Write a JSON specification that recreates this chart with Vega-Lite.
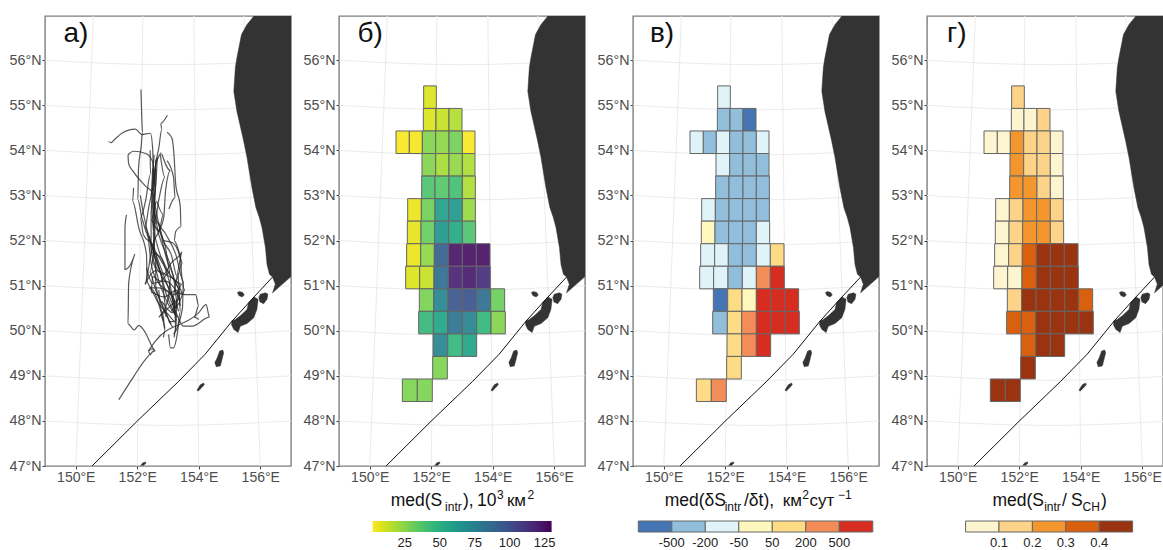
{
"$schema":"https://vega.github.io/schema/vega-lite/v6.json",
"padding":{"left":8,"top":15,"right":0,"bottom":0},
"background":"white",
"spacing":48,
"bounds":"flush",
"config":{"font":"Liberation Sans","view":{"stroke":"#7f7f7f","strokeWidth":1.4},"axis":{"grid":false,"domain":false,"tickColor":"#444444","tickSize":3,"labelColor":"#4d4d4d","labelPadding":1,"title":null}},
"datasets":{
"cells":[
{"lon0":151.753,"lon1":152.165,"lat0":54.93,"lat1":55.43,"s":9,"dsBin":3,"ratio":0.15},
{"lon0":151.743,"lon1":152.154,"lat0":54.43,"lat1":54.93,"s":9,"dsBin":2,"ratio":0.05},
{"lon0":152.154,"lon1":152.577,"lat0":54.43,"lat1":54.93,"s":13,"dsBin":2,"ratio":0.05},
{"lon0":152.577,"lon1":153.0,"lat0":54.43,"lat1":54.93,"s":17,"dsBin":1,"ratio":0.15},
{"lon0":150.854,"lon1":151.287,"lat0":53.93,"lat1":54.43,"s":3,"dsBin":3,"ratio":0.05},
{"lon0":151.287,"lon1":151.71,"lat0":53.93,"lat1":54.43,"s":4,"dsBin":2,"ratio":0.05},
{"lon0":151.71,"lon1":152.144,"lat0":53.93,"lat1":54.43,"s":26,"dsBin":3,"ratio":0.25},
{"lon0":152.144,"lon1":152.577,"lat0":53.93,"lat1":54.43,"s":24,"dsBin":2,"ratio":0.15},
{"lon0":152.577,"lon1":153.011,"lat0":53.93,"lat1":54.43,"s":29,"dsBin":2,"ratio":0.15},
{"lon0":153.011,"lon1":153.423,"lat0":53.93,"lat1":54.43,"s":3,"dsBin":3,"ratio":0.05},
{"lon0":151.699,"lon1":152.144,"lat0":53.43,"lat1":53.93,"s":26,"dsBin":3,"ratio":0.25},
{"lon0":152.144,"lon1":152.577,"lat0":53.43,"lat1":53.93,"s":19,"dsBin":2,"ratio":0.15},
{"lon0":152.577,"lon1":153.011,"lat0":53.43,"lat1":53.93,"s":23,"dsBin":2,"ratio":0.15},
{"lon0":153.011,"lon1":153.423,"lat0":53.43,"lat1":53.93,"s":18,"dsBin":2,"ratio":0.05},
{"lon0":151.688,"lon1":152.122,"lat0":52.93,"lat1":53.43,"s":38,"dsBin":2,"ratio":0.25},
{"lon0":152.122,"lon1":152.577,"lat0":52.93,"lat1":53.43,"s":36,"dsBin":2,"ratio":0.25},
{"lon0":152.577,"lon1":153.011,"lat0":52.93,"lat1":53.43,"s":41,"dsBin":2,"ratio":0.15},
{"lon0":153.011,"lon1":153.434,"lat0":52.93,"lat1":53.43,"s":18,"dsBin":2,"ratio":0.05},
{"lon0":151.233,"lon1":151.678,"lat0":52.43,"lat1":52.93,"s":6,"dsBin":3,"ratio":0.05},
{"lon0":151.678,"lon1":152.122,"lat0":52.43,"lat1":52.93,"s":30,"dsBin":2,"ratio":0.15},
{"lon0":152.122,"lon1":152.566,"lat0":52.43,"lat1":52.93,"s":58,"dsBin":2,"ratio":0.25},
{"lon0":152.566,"lon1":153.011,"lat0":52.43,"lat1":52.93,"s":62,"dsBin":2,"ratio":0.25},
{"lon0":153.011,"lon1":153.434,"lat0":52.43,"lat1":52.93,"s":22,"dsBin":2,"ratio":0.15},
{"lon0":151.222,"lon1":151.667,"lat0":51.93,"lat1":52.43,"s":7,"dsBin":4,"ratio":0.05},
{"lon0":151.667,"lon1":152.111,"lat0":51.93,"lat1":52.43,"s":32,"dsBin":2,"ratio":0.15},
{"lon0":152.111,"lon1":152.566,"lat0":51.93,"lat1":52.43,"s":63,"dsBin":2,"ratio":0.25},
{"lon0":152.566,"lon1":153.011,"lat0":51.93,"lat1":52.43,"s":53,"dsBin":2,"ratio":0.25},
{"lon0":153.011,"lon1":153.444,"lat0":51.93,"lat1":52.43,"s":38,"dsBin":3,"ratio":0.15},
{"lon0":151.2,"lon1":151.656,"lat0":51.43,"lat1":51.93,"s":6,"dsBin":3,"ratio":0.05},
{"lon0":151.656,"lon1":152.1,"lat0":51.43,"lat1":51.93,"s":24,"dsBin":3,"ratio":0.15},
{"lon0":152.1,"lon1":152.556,"lat0":51.43,"lat1":51.93,"s":92,"dsBin":2,"ratio":0.35},
{"lon0":152.556,"lon1":153.011,"lat0":51.43,"lat1":51.93,"s":123,"dsBin":2,"ratio":0.45},
{"lon0":153.011,"lon1":153.466,"lat0":51.43,"lat1":51.93,"s":125,"dsBin":3,"ratio":0.45},
{"lon0":153.466,"lon1":153.911,"lat0":51.43,"lat1":51.93,"s":125,"dsBin":5,"ratio":0.45},
{"lon0":151.168,"lon1":151.623,"lat0":50.93,"lat1":51.43,"s":9,"dsBin":3,"ratio":0.05},
{"lon0":151.623,"lon1":152.089,"lat0":50.93,"lat1":51.43,"s":13,"dsBin":3,"ratio":0.05},
{"lon0":152.089,"lon1":152.556,"lat0":50.93,"lat1":51.43,"s":84,"dsBin":2,"ratio":0.35},
{"lon0":152.556,"lon1":153.011,"lat0":50.93,"lat1":51.43,"s":118,"dsBin":3,"ratio":0.45},
{"lon0":153.011,"lon1":153.466,"lat0":50.93,"lat1":51.43,"s":122,"dsBin":6,"ratio":0.45},
{"lon0":153.466,"lon1":153.921,"lat0":50.93,"lat1":51.43,"s":114,"dsBin":7,"ratio":0.45},
{"lon0":151.612,"lon1":152.079,"lat0":50.43,"lat1":50.93,"s":28,"dsBin":1,"ratio":0.15},
{"lon0":152.079,"lon1":152.545,"lat0":50.43,"lat1":50.93,"s":72,"dsBin":5,"ratio":0.45},
{"lon0":152.545,"lon1":153.011,"lat0":50.43,"lat1":50.93,"s":96,"dsBin":4,"ratio":0.45},
{"lon0":153.011,"lon1":153.477,"lat0":50.43,"lat1":50.93,"s":98,"dsBin":7,"ratio":0.45},
{"lon0":153.477,"lon1":153.932,"lat0":50.43,"lat1":50.93,"s":84,"dsBin":7,"ratio":0.45},
{"lon0":153.932,"lon1":154.387,"lat0":50.43,"lat1":50.93,"s":31,"dsBin":7,"ratio":0.35},
{"lon0":151.591,"lon1":152.068,"lat0":49.93,"lat1":50.43,"s":45,"dsBin":2,"ratio":0.35},
{"lon0":152.068,"lon1":152.534,"lat0":49.93,"lat1":50.43,"s":55,"dsBin":5,"ratio":0.35},
{"lon0":152.534,"lon1":153.011,"lat0":49.93,"lat1":50.43,"s":82,"dsBin":6,"ratio":0.45},
{"lon0":153.011,"lon1":153.477,"lat0":49.93,"lat1":50.43,"s":74,"dsBin":7,"ratio":0.45},
{"lon0":153.477,"lon1":153.943,"lat0":49.93,"lat1":50.43,"s":46,"dsBin":7,"ratio":0.45},
{"lon0":153.943,"lon1":154.409,"lat0":49.93,"lat1":50.43,"s":26,"dsBin":7,"ratio":0.45},
{"lon0":152.057,"lon1":152.534,"lat0":49.43,"lat1":49.93,"s":72,"dsBin":5,"ratio":0.35},
{"lon0":152.534,"lon1":153.011,"lat0":49.43,"lat1":49.93,"s":46,"dsBin":6,"ratio":0.45},
{"lon0":153.011,"lon1":153.477,"lat0":49.43,"lat1":49.93,"s":56,"dsBin":7,"ratio":0.45},
{"lon0":152.046,"lon1":152.523,"lat0":48.93,"lat1":49.43,"s":27,"dsBin":5,"ratio":0.45},
{"lon0":151.06,"lon1":151.547,"lat0":48.43,"lat1":48.93,"s":27,"dsBin":5,"ratio":0.45},
{"lon0":151.547,"lon1":152.035,"lat0":48.43,"lat1":48.93,"s":27,"dsBin":6,"ratio":0.45}
],
"grid":[
{"g":"p48","i":0,"lon":149,"lat":48},{"g":"p48","i":1,"lon":151,"lat":47.93},{"g":"p48","i":2,"lon":153,"lat":47.9},{"g":"p48","i":3,"lon":155,"lat":47.93},{"g":"p48","i":4,"lon":157,"lat":48},
{"g":"p49","i":0,"lon":149,"lat":49},{"g":"p49","i":1,"lon":151,"lat":48.93},{"g":"p49","i":2,"lon":153,"lat":48.9},{"g":"p49","i":3,"lon":155,"lat":48.93},{"g":"p49","i":4,"lon":157,"lat":49},
{"g":"p50","i":0,"lon":149,"lat":50},{"g":"p50","i":1,"lon":151,"lat":49.93},{"g":"p50","i":2,"lon":153,"lat":49.9},{"g":"p50","i":3,"lon":155,"lat":49.93},{"g":"p50","i":4,"lon":157,"lat":50},
{"g":"p51","i":0,"lon":149,"lat":51},{"g":"p51","i":1,"lon":151,"lat":50.93},{"g":"p51","i":2,"lon":153,"lat":50.9},{"g":"p51","i":3,"lon":155,"lat":50.93},{"g":"p51","i":4,"lon":157,"lat":51},
{"g":"p52","i":0,"lon":149,"lat":52},{"g":"p52","i":1,"lon":151,"lat":51.93},{"g":"p52","i":2,"lon":153,"lat":51.9},{"g":"p52","i":3,"lon":155,"lat":51.93},{"g":"p52","i":4,"lon":157,"lat":52},
{"g":"p53","i":0,"lon":149,"lat":53},{"g":"p53","i":1,"lon":151,"lat":52.93},{"g":"p53","i":2,"lon":153,"lat":52.9},{"g":"p53","i":3,"lon":155,"lat":52.93},{"g":"p53","i":4,"lon":157,"lat":53},
{"g":"p54","i":0,"lon":149,"lat":54},{"g":"p54","i":1,"lon":151,"lat":53.93},{"g":"p54","i":2,"lon":153,"lat":53.9},{"g":"p54","i":3,"lon":155,"lat":53.93},{"g":"p54","i":4,"lon":157,"lat":54},
{"g":"p55","i":0,"lon":149,"lat":55},{"g":"p55","i":1,"lon":151,"lat":54.93},{"g":"p55","i":2,"lon":153,"lat":54.9},{"g":"p55","i":3,"lon":155,"lat":54.93},{"g":"p55","i":4,"lon":157,"lat":55},
{"g":"p56","i":0,"lon":149,"lat":56},{"g":"p56","i":1,"lon":151,"lat":55.93},{"g":"p56","i":2,"lon":153,"lat":55.9},{"g":"p56","i":3,"lon":155,"lat":55.93},{"g":"p56","i":4,"lon":157,"lat":56},
{"g":"m150","i":0,"lon":150,"lat":47},{"g":"m150","i":1,"lon":150.575,"lat":57},
{"g":"m152","i":0,"lon":152,"lat":47},{"g":"m152","i":1,"lon":152.184,"lat":57},
{"g":"m154","i":0,"lon":154,"lat":47},{"g":"m154","i":1,"lon":153.84,"lat":57},
{"g":"m156","i":0,"lon":156,"lat":47},{"g":"m156","i":1,"lon":155.47,"lat":57}
],
"land":[
{"id":"k","i":0,"lon":155.82,"lat":57},{"id":"k","i":1,"lon":155.57,"lat":56.79},{"id":"k","i":2,"lon":155.39,"lat":56.57},{"id":"k","i":3,"lon":155.24,"lat":56.05},{"id":"k","i":4,"lon":155.19,"lat":55.83},{"id":"k","i":5,"lon":155.14,"lat":55.31},{"id":"k","i":6,"lon":155.24,"lat":54.87},{"id":"k","i":7,"lon":155.46,"lat":54.21},{"id":"k","i":8,"lon":155.57,"lat":53.84},{"id":"k","i":9,"lon":155.73,"lat":53.17},{"id":"k","i":10,"lon":155.86,"lat":52.73},{"id":"k","i":11,"lon":155.97,"lat":52.51},{"id":"k","i":12,"lon":156.06,"lat":52.28},{"id":"k","i":13,"lon":156.17,"lat":51.84},{"id":"k","i":14,"lon":156.22,"lat":51.47},{"id":"k","i":15,"lon":156.3,"lat":51.25},{"id":"k","i":16,"lon":156.4,"lat":51.19},{"id":"k","i":17,"lon":156.49,"lat":51.03},{"id":"k","i":18,"lon":156.4,"lat":50.84},{"id":"k","i":19,"lon":156.65,"lat":50.99},{"id":"k","i":20,"lon":157.2,"lat":51.32},{"id":"k","i":21,"lon":157.2,"lat":57.2},{"id":"k","i":22,"lon":155.82,"lat":57.2},
{"id":"a","i":0,"lon":155.25,"lat":50.84},{"id":"a","i":1,"lon":155.32,"lat":50.87},{"id":"a","i":2,"lon":155.43,"lat":50.85},{"id":"a","i":3,"lon":155.48,"lat":50.79},{"id":"a","i":4,"lon":155.41,"lat":50.75},{"id":"a","i":5,"lon":155.3,"lat":50.78},
{"id":"b","i":0,"lon":155.95,"lat":50.73},{"id":"b","i":1,"lon":156.0,"lat":50.81},{"id":"b","i":2,"lon":156.17,"lat":50.84},{"id":"b","i":3,"lon":156.25,"lat":50.81},{"id":"b","i":4,"lon":156.22,"lat":50.7},{"id":"b","i":5,"lon":156.11,"lat":50.6},{"id":"b","i":6,"lon":155.98,"lat":50.64},
{"id":"c","i":0,"lon":155.06,"lat":50.21},{"id":"c","i":1,"lon":155.19,"lat":50.25},{"id":"c","i":2,"lon":155.35,"lat":50.33},{"id":"c","i":3,"lon":155.57,"lat":50.47},{"id":"c","i":4,"lon":155.62,"lat":50.62},{"id":"c","i":5,"lon":155.79,"lat":50.75},{"id":"c","i":6,"lon":155.93,"lat":50.7},{"id":"c","i":7,"lon":155.89,"lat":50.47},{"id":"c","i":8,"lon":155.79,"lat":50.29},{"id":"c","i":9,"lon":155.57,"lat":50.16},{"id":"c","i":10,"lon":155.35,"lat":50.1},{"id":"c","i":11,"lon":155.28,"lat":49.96},{"id":"c","i":12,"lon":155.14,"lat":50.03},{"id":"c","i":13,"lon":155.06,"lat":50.14},
{"id":"d","i":0,"lon":154.52,"lat":49.29},{"id":"d","i":1,"lon":154.6,"lat":49.4},{"id":"d","i":2,"lon":154.68,"lat":49.55},{"id":"d","i":3,"lon":154.78,"lat":49.57},{"id":"d","i":4,"lon":154.81,"lat":49.51},{"id":"d","i":5,"lon":154.73,"lat":49.29},{"id":"d","i":6,"lon":154.7,"lat":49.22},{"id":"d","i":7,"lon":154.56,"lat":49.2},
{"id":"e","i":0,"lon":153.94,"lat":48.68},{"id":"e","i":1,"lon":154.05,"lat":48.8},{"id":"e","i":2,"lon":154.16,"lat":48.84},{"id":"e","i":3,"lon":154.18,"lat":48.8},{"id":"e","i":4,"lon":154.07,"lat":48.72},{"id":"e","i":5,"lon":153.98,"lat":48.66},
{"id":"f","i":0,"lon":152.11,"lat":47.01},{"id":"f","i":1,"lon":152.18,"lat":47.07},{"id":"f","i":2,"lon":152.27,"lat":47.09},{"id":"f","i":3,"lon":152.28,"lat":47.06},{"id":"f","i":4,"lon":152.2,"lat":47.01}
],
"coast":[
{"i":0,"lon":150.53,"lat":47},{"i":1,"lon":151.99,"lat":47.99},{"i":2,"lon":153.35,"lat":48.88},{"i":3,"lon":154.21,"lat":49.48},{"i":4,"lon":155.08,"lat":50.21},{"i":5,"lon":155.73,"lat":50.7},{"i":6,"lon":156.4,"lat":51.19}
],
"text":[
{"p":"a","lon":149.6,"lat":56.4,"t":"a)","z":28},
{"p":"b","lon":149.6,"lat":56.4,"t":"б)","z":28},
{"p":"c","lon":149.55,"lat":56.4,"t":"в)","z":28},
{"p":"d","lon":149.65,"lat":56.4,"t":"г)","z":28},
{"p":"b","lon":150.68,"lat":46.11,"t":"med(S","z":17.5},
{"p":"b","lon":152.45,"lat":46.0,"t":"intr","z":12},
{"p":"b","lon":153.03,"lat":46.11,"t":"),","z":17.5},
{"p":"b","lon":153.49,"lat":46.11,"t":"10","z":17.5},
{"p":"b","lon":154.14,"lat":46.27,"t":"3","z":12},
{"p":"b","lon":154.46,"lat":46.11,"t":"км","z":17},
{"p":"b","lon":155.13,"lat":46.27,"t":"2","z":12},
{"p":"c","lon":150.03,"lat":46.11,"t":"med(δS","z":17.5},
{"p":"c","lon":151.98,"lat":46.0,"t":"intr","z":12},
{"p":"c","lon":152.61,"lat":46.11,"t":"/δt),","z":17.5},
{"p":"c","lon":153.87,"lat":46.11,"t":"км","z":17},
{"p":"c","lon":154.5,"lat":46.27,"t":"2","z":12},
{"p":"c","lon":154.74,"lat":46.11,"t":"сут","z":17},
{"p":"c","lon":155.67,"lat":46.27,"t":"−1","z":12},
{"p":"d","lon":151.13,"lat":46.11,"t":"med(S","z":17.5},
{"p":"d","lon":152.81,"lat":46.0,"t":"intr","z":12},
{"p":"d","lon":153.39,"lat":46.11,"t":"/","z":17.5},
{"p":"d","lon":153.68,"lat":46.11,"t":"S","z":17.5},
{"p":"d","lon":154.06,"lat":46.0,"t":"CH","z":12},
{"p":"d","lon":154.66,"lat":46.11,"t":")","z":17.5}
],
"tracks":[
{"t":1,"i":0,"lon":152.12,"lat":55.35},{"t":1,"i":1,"lon":152.14,"lat":54.9},{"t":1,"i":2,"lon":152.17,"lat":54.4},{"t":1,"i":3,"lon":152.13,"lat":54.1},{"t":1,"i":4,"lon":152.04,"lat":53.6},{"t":1,"i":5,"lon":152.02,"lat":52.9},{"t":1,"i":6,"lon":152.15,"lat":52.5},{"t":1,"i":7,"lon":152.6,"lat":51.7},{"t":1,"i":8,"lon":152.93,"lat":51.1},{"t":1,"i":9,"lon":153.25,"lat":50.5},
{"t":2,"i":0,"lon":151.07,"lat":54.2},{"t":2,"i":1,"lon":151.15,"lat":54.17},{"t":2,"i":2,"lon":151.23,"lat":54.22},{"t":2,"i":3,"lon":151.5,"lat":54.38},{"t":2,"i":4,"lon":151.94,"lat":54.47},{"t":2,"i":5,"lon":152.15,"lat":54.35},{"t":2,"i":6,"lon":152.43,"lat":54.38},{"t":2,"i":7,"lon":152.5,"lat":54.05},{"t":2,"i":8,"lon":152.53,"lat":53.47},{"t":2,"i":9,"lon":152.6,"lat":53.17},{"t":2,"i":10,"lon":152.5,"lat":52.72},{"t":2,"i":11,"lon":152.7,"lat":52.13},{"t":2,"i":12,"lon":153.03,"lat":51.55},{"t":2,"i":13,"lon":153.35,"lat":50.95},{"t":2,"i":14,"lon":153.25,"lat":50.2},
{"t":3,"i":0,"lon":152.98,"lat":54.78},{"t":3,"i":1,"lon":152.76,"lat":54.6},{"t":3,"i":2,"lon":152.8,"lat":54.47},{"t":3,"i":3,"lon":152.7,"lat":54.05},{"t":3,"i":4,"lon":152.6,"lat":53.7},{"t":3,"i":5,"lon":152.53,"lat":53.3},{"t":3,"i":6,"lon":152.37,"lat":52.72},{"t":3,"i":7,"lon":152.25,"lat":52.28},{"t":3,"i":8,"lon":152.55,"lat":51.7},{"t":3,"i":9,"lon":152.83,"lat":51.03},{"t":3,"i":10,"lon":152.93,"lat":50.45},{"t":3,"i":11,"lon":153.15,"lat":50.08},
{"t":4,"i":0,"lon":152.97,"lat":54.4},{"t":4,"i":1,"lon":153.13,"lat":54.27},{"t":4,"i":2,"lon":153.2,"lat":53.85},{"t":4,"i":3,"lon":153.25,"lat":53.25},{"t":4,"i":4,"lon":153.4,"lat":52.75},{"t":4,"i":5,"lon":153.42,"lat":52.3},{"t":4,"i":6,"lon":153.25,"lat":52.2},{"t":4,"i":7,"lon":153.2,"lat":52.0},{"t":4,"i":8,"lon":153.35,"lat":51.77},{"t":4,"i":9,"lon":153.47,"lat":51.5},{"t":4,"i":10,"lon":153.25,"lat":51.1},{"t":4,"i":11,"lon":153.47,"lat":50.8},
{"t":5,"i":0,"lon":151.7,"lat":53.9},{"t":5,"i":1,"lon":151.88,"lat":53.98},{"t":5,"i":2,"lon":152.28,"lat":53.93},{"t":5,"i":3,"lon":152.5,"lat":53.75},{"t":5,"i":4,"lon":152.55,"lat":53.5},{"t":5,"i":5,"lon":152.5,"lat":53.1},
{"t":6,"i":0,"lon":151.7,"lat":53.9},{"t":6,"i":1,"lon":151.72,"lat":53.7},{"t":6,"i":2,"lon":151.85,"lat":53.55},{"t":6,"i":3,"lon":152.25,"lat":53.22},{"t":6,"i":4,"lon":152.5,"lat":53.05},{"t":6,"i":5,"lon":152.6,"lat":52.7},{"t":6,"i":6,"lon":152.75,"lat":52.2},{"t":6,"i":7,"lon":152.95,"lat":51.6},{"t":6,"i":8,"lon":153.2,"lat":51.1},{"t":6,"i":9,"lon":153.3,"lat":50.5},
{"t":7,"i":0,"lon":151.65,"lat":52.57},{"t":7,"i":1,"lon":151.6,"lat":52.28},{"t":7,"i":2,"lon":151.6,"lat":51.36},{"t":7,"i":3,"lon":151.78,"lat":51.47},{"t":7,"i":4,"lon":151.92,"lat":51.7},{"t":7,"i":5,"lon":151.72,"lat":51.05},{"t":7,"i":6,"lon":151.7,"lat":50.15},{"t":7,"i":7,"lon":151.9,"lat":50.02},{"t":7,"i":8,"lon":152.05,"lat":50.12},{"t":7,"i":9,"lon":152.27,"lat":49.95},{"t":7,"i":10,"lon":152.48,"lat":49.65},{"t":7,"i":11,"lon":152.58,"lat":49.55},
{"t":8,"i":0,"lon":151.4,"lat":48.47},{"t":8,"i":1,"lon":151.9,"lat":49.0},{"t":8,"i":2,"lon":152.25,"lat":49.35},{"t":8,"i":3,"lon":152.58,"lat":49.55},{"t":8,"i":4,"lon":152.48,"lat":49.6},{"t":8,"i":5,"lon":152.36,"lat":49.55},{"t":8,"i":6,"lon":152.42,"lat":49.47},{"t":8,"i":7,"lon":152.5,"lat":49.55},
{"t":9,"i":0,"lon":152.36,"lat":49.55},{"t":9,"i":1,"lon":152.59,"lat":49.77},{"t":9,"i":2,"lon":154.0,"lat":50.4},{"t":9,"i":3,"lon":154.24,"lat":50.58},{"t":9,"i":4,"lon":154.32,"lat":50.36},{"t":9,"i":5,"lon":154.35,"lat":50.3},{"t":9,"i":6,"lon":153.78,"lat":50.1},{"t":9,"i":7,"lon":153.51,"lat":50.1},{"t":9,"i":8,"lon":153.24,"lat":50.44},{"t":9,"i":9,"lon":153.02,"lat":50.8},
{"t":10,"i":0,"lon":153.02,"lat":49.92},{"t":10,"i":1,"lon":153.08,"lat":49.62},{"t":10,"i":2,"lon":153.18,"lat":49.62},{"t":10,"i":3,"lon":153.3,"lat":49.92},{"t":10,"i":4,"lon":153.4,"lat":50.43},{"t":10,"i":5,"lon":153.35,"lat":50.9},{"t":10,"i":6,"lon":153.0,"lat":51.3},{"t":10,"i":7,"lon":152.6,"lat":51.75},
{"t":11,"i":0,"lon":153.3,"lat":50.85},{"t":11,"i":1,"lon":153.57,"lat":50.8},{"t":11,"i":2,"lon":153.9,"lat":50.8},{"t":11,"i":3,"lon":154.0,"lat":50.55},{"t":11,"i":4,"lon":153.85,"lat":50.3},{"t":11,"i":5,"lon":154.0,"lat":50.25},
{"t":12,"i":0,"lon":151.88,"lat":53.17},{"t":12,"i":1,"lon":151.85,"lat":52.87},{"t":12,"i":2,"lon":152.05,"lat":52.28},{"t":12,"i":3,"lon":152.3,"lat":51.7},{"t":12,"i":4,"lon":152.32,"lat":51.1},{"t":12,"i":5,"lon":152.6,"lat":50.8},{"t":12,"i":6,"lon":152.85,"lat":50.22},
{"t":13,"i":0,"lon":152.78,"lat":53.95},{"t":13,"i":1,"lon":152.58,"lat":53.62},{"t":13,"i":2,"lon":152.53,"lat":52.95},{"t":13,"i":3,"lon":152.6,"lat":52.5},{"t":13,"i":4,"lon":152.92,"lat":52.15},{"t":13,"i":5,"lon":153.25,"lat":51.7},{"t":13,"i":6,"lon":153.5,"lat":51.1},{"t":13,"i":7,"lon":153.47,"lat":50.5},{"t":13,"i":8,"lon":153.18,"lat":49.92},
{"t":14,"i":0,"lon":152.8,"lat":53.92},{"t":14,"i":1,"lon":153.08,"lat":53.55},{"t":14,"i":2,"lon":152.92,"lat":53.1},{"t":14,"i":3,"lon":152.86,"lat":52.5},{"t":14,"i":4,"lon":152.7,"lat":52.2},{"t":14,"i":5,"lon":152.48,"lat":51.85},{"t":14,"i":6,"lon":152.37,"lat":51.4},{"t":14,"i":7,"lon":152.27,"lat":51.03},
{"t":15,"i":0,"lon":152.97,"lat":53.77},{"t":15,"i":1,"lon":153.18,"lat":53.4},{"t":15,"i":2,"lon":153.23,"lat":52.95},{"t":15,"i":3,"lon":153.03,"lat":52.7},
{"t":16,"i":0,"lon":152.42,"lat":54.0},{"t":16,"i":1,"lon":152.43,"lat":53.47},{"t":16,"i":2,"lon":152.27,"lat":52.88},{"t":16,"i":3,"lon":152.1,"lat":52.5},{"t":16,"i":4,"lon":152.2,"lat":52.13},{"t":16,"i":5,"lon":152.55,"lat":51.85},{"t":16,"i":6,"lon":152.7,"lat":51.4},{"t":16,"i":7,"lon":153.03,"lat":50.95},{"t":16,"i":8,"lon":153.35,"lat":50.43},
{"t":17,"i":0,"lon":152.63,"lat":52.88},{"t":17,"i":1,"lon":152.85,"lat":52.58},{"t":17,"i":2,"lon":152.7,"lat":52.2},{"t":17,"i":3,"lon":152.45,"lat":52.45},{"t":17,"i":4,"lon":152.6,"lat":52.85},
{"t":18,"i":0,"lon":152.25,"lat":51.03},{"t":18,"i":1,"lon":152.6,"lat":51.33},{"t":18,"i":2,"lon":153.13,"lat":51.17},{"t":18,"i":3,"lon":153.45,"lat":51.03},{"t":18,"i":4,"lon":153.24,"lat":50.8},{"t":18,"i":5,"lon":152.7,"lat":50.95},{"t":18,"i":6,"lon":152.38,"lat":50.95},{"t":18,"i":7,"lon":152.7,"lat":50.6},{"t":18,"i":8,"lon":153.02,"lat":50.35},{"t":18,"i":9,"lon":153.25,"lat":50.2},{"t":18,"i":10,"lon":153.02,"lat":50.2},
{"t":19,"i":0,"lon":152.4,"lat":52.1},{"t":19,"i":1,"lon":152.5,"lat":51.6},{"t":19,"i":2,"lon":152.85,"lat":51.25},{"t":19,"i":3,"lon":153.1,"lat":51.5},{"t":19,"i":4,"lon":153.45,"lat":51.75},{"t":19,"i":5,"lon":153.3,"lat":51.3},{"t":19,"i":6,"lon":153.4,"lat":50.8},{"t":19,"i":7,"lon":153.15,"lat":50.4},{"t":19,"i":8,"lon":152.8,"lat":50.65},
{"t":20,"i":0,"lon":152.5,"lat":53.6},{"t":20,"i":1,"lon":152.45,"lat":53.0},{"t":20,"i":2,"lon":152.55,"lat":52.4},{"t":20,"i":3,"lon":152.55,"lat":51.9},{"t":20,"i":4,"lon":152.4,"lat":51.3},{"t":20,"i":5,"lon":152.6,"lat":50.9},{"t":20,"i":6,"lon":152.85,"lat":50.5},{"t":20,"i":7,"lon":153.1,"lat":50.15},
{"t":21,"i":0,"lon":152.6,"lat":53.8},{"t":21,"i":1,"lon":152.6,"lat":53.3},{"t":21,"i":2,"lon":152.55,"lat":52.7},{"t":21,"i":3,"lon":152.58,"lat":52.1},{"t":21,"i":4,"lon":152.5,"lat":51.5},{"t":21,"i":5,"lon":152.75,"lat":51.0},{"t":21,"i":6,"lon":153.0,"lat":50.6},{"t":21,"i":7,"lon":153.3,"lat":50.3},
{"t":22,"i":0,"lon":152.75,"lat":53.9},{"t":22,"i":1,"lon":152.9,"lat":53.4},{"t":22,"i":2,"lon":152.7,"lat":52.9},{"t":22,"i":3,"lon":152.55,"lat":52.3},{"t":22,"i":4,"lon":152.9,"lat":51.9},{"t":22,"i":5,"lon":153.1,"lat":51.2},{"t":22,"i":6,"lon":153.0,"lat":50.7},{"t":22,"i":7,"lon":152.7,"lat":50.3},
{"t":23,"i":0,"lon":152.1,"lat":53.0},{"t":23,"i":1,"lon":152.2,"lat":52.6},{"t":23,"i":2,"lon":152.35,"lat":52.1},{"t":23,"i":3,"lon":152.45,"lat":51.5},{"t":23,"i":4,"lon":152.65,"lat":51.1},{"t":23,"i":5,"lon":152.95,"lat":50.9},{"t":23,"i":6,"lon":153.2,"lat":50.7},{"t":23,"i":7,"lon":153.25,"lat":50.0},
{"t":24,"i":0,"lon":152.45,"lat":51.75},{"t":24,"i":1,"lon":152.8,"lat":51.6},{"t":24,"i":2,"lon":153.05,"lat":51.3},{"t":24,"i":3,"lon":152.75,"lat":51.1},{"t":24,"i":4,"lon":152.5,"lat":51.2},{"t":24,"i":5,"lon":152.45,"lat":50.85},{"t":24,"i":6,"lon":152.85,"lat":50.75},{"t":24,"i":7,"lon":153.3,"lat":50.9},{"t":24,"i":8,"lon":153.4,"lat":50.55},
{"t":25,"i":0,"lon":152.85,"lat":52.0},{"t":25,"i":1,"lon":153.15,"lat":51.95},{"t":25,"i":2,"lon":153.4,"lat":51.6},{"t":25,"i":3,"lon":153.45,"lat":51.2},{"t":25,"i":4,"lon":153.55,"lat":50.9},{"t":25,"i":5,"lon":153.35,"lat":50.6},{"t":25,"i":6,"lon":153.1,"lat":50.45},
{"t":26,"i":0,"lon":152.7,"lat":50.9},{"t":26,"i":1,"lon":152.75,"lat":50.55},{"t":26,"i":2,"lon":152.85,"lat":50.3},{"t":26,"i":3,"lon":152.9,"lat":50.0},{"t":26,"i":4,"lon":152.85,"lat":49.85},
{"t":27,"i":0,"lon":152.55,"lat":53.9},{"t":27,"i":1,"lon":152.5,"lat":53.4},{"t":27,"i":2,"lon":152.47,"lat":52.9},{"t":27,"i":3,"lon":152.5,"lat":52.4},{"t":27,"i":4,"lon":152.65,"lat":51.9},{"t":27,"i":5,"lon":152.9,"lat":51.4},{"t":27,"i":6,"lon":153.1,"lat":50.9},{"t":27,"i":7,"lon":153.2,"lat":50.4},
{"t":28,"i":0,"lon":152.6,"lat":53.6},{"t":28,"i":1,"lon":152.52,"lat":53.1},{"t":28,"i":2,"lon":152.45,"lat":52.6},{"t":28,"i":3,"lon":152.45,"lat":52.0},{"t":28,"i":4,"lon":152.6,"lat":51.5},{"t":28,"i":5,"lon":152.6,"lat":51.0},{"t":28,"i":6,"lon":152.8,"lat":50.6},{"t":28,"i":7,"lon":152.95,"lat":50.3},
{"t":29,"i":0,"lon":152.7,"lat":52.4},{"t":29,"i":1,"lon":152.85,"lat":52.0},{"t":29,"i":2,"lon":153.1,"lat":51.7},{"t":29,"i":3,"lon":153.3,"lat":51.2},{"t":29,"i":4,"lon":153.15,"lat":50.7},{"t":29,"i":5,"lon":153.3,"lat":50.2},{"t":29,"i":6,"lon":153.2,"lat":49.85},
{"t":30,"i":0,"lon":152.3,"lat":51.4},{"t":30,"i":1,"lon":152.5,"lat":51.05},{"t":30,"i":2,"lon":152.9,"lat":51.1},{"t":30,"i":3,"lon":153.2,"lat":50.95},{"t":30,"i":4,"lon":153.4,"lat":50.7},{"t":30,"i":5,"lon":153.0,"lat":50.5},{"t":30,"i":6,"lon":152.75,"lat":50.35},{"t":30,"i":7,"lon":152.9,"lat":50.05},
{"t":31,"i":0,"lon":152.65,"lat":53.85},{"t":31,"i":1,"lon":152.62,"lat":53.4},{"t":31,"i":2,"lon":152.55,"lat":52.85},{"t":31,"i":3,"lon":152.52,"lat":52.2},{"t":31,"i":4,"lon":152.55,"lat":51.7},{"t":31,"i":5,"lon":152.75,"lat":51.3},{"t":31,"i":6,"lon":152.95,"lat":50.8},{"t":31,"i":7,"lon":153.25,"lat":50.35}
]
},
"hconcat":[
{"width":246,"height":450,"layer":[
{"data":{"name":"grid"},"mark":{"type":"line","color":"#ebebeb","strokeWidth":1,"clip":true,"interpolate":"monotone"},"encoding":{"x":{"field":"lon","type":"quantitative","scale":{"domain":[149,157],"nice":false,"zero":false},"axis":{"values":[150,152,154,156],"labelExpr":"datum.value+'°E'","labelFontSize":14}},"y":{"field":"lat","type":"quantitative","scale":{"domain":[47,56.98],"nice":false,"zero":false},"axis":{"values":[47,48,49,50,51,52,53,54,55,56],"labelExpr":"datum.value+'°N'","labelFontSize":14.3}},"detail":{"field":"g"},"order":{"field":"i"}}},
{"data":{"name":"land"},"mark":{"type":"line","color":"#333333","fill":"#333333","strokeWidth":0.5,"clip":true},"encoding":{"x":{"field":"lon","type":"quantitative"},"y":{"field":"lat","type":"quantitative"},"detail":{"field":"id"},"order":{"field":"i"}}},
{"data":{"name":"coast"},"mark":{"type":"line","color":"#111111","strokeWidth":1,"clip":true},"encoding":{"x":{"field":"lon","type":"quantitative"},"y":{"field":"lat","type":"quantitative"},"order":{"field":"i"}}},
{"data":{"name":"tracks"},"mark":{"type":"line","color":"#222222","opacity":0.75,"strokeWidth":1.2,"clip":true,"interpolate":"monotone"},"encoding":{"x":{"field":"lon","type":"quantitative"},"y":{"field":"lat","type":"quantitative"},"detail":{"field":"t"},"order":{"field":"i"}}},
{"data":{"name":"text"},"transform":[{"filter":"datum.p=='a'"}],"mark":{"type":"text","align":"left","baseline":"alphabetic","color":"#111111"},"encoding":{"x":{"field":"lon","type":"quantitative"},"y":{"field":"lat","type":"quantitative"},"text":{"field":"t"},"size":{"field":"z","type":"quantitative","scale":null}}}
]},
{"width":246,"height":450,"layer":[
{"data":{"name":"grid"},"mark":{"type":"line","color":"#ebebeb","strokeWidth":1,"clip":true,"interpolate":"monotone"},"encoding":{"x":{"field":"lon","type":"quantitative","scale":{"domain":[149,157],"nice":false,"zero":false},"axis":{"values":[150,152,154,156],"labelExpr":"datum.value+'°E'","labelFontSize":14}},"y":{"field":"lat","type":"quantitative","scale":{"domain":[47,56.98],"nice":false,"zero":false},"axis":{"values":[47,48,49,50,51,52,53,54,55,56],"labelExpr":"datum.value+'°N'","labelFontSize":14.3}},"detail":{"field":"g"},"order":{"field":"i"}}},
{"data":{"name":"land"},"mark":{"type":"line","color":"#333333","fill":"#333333","strokeWidth":0.5,"clip":true},"encoding":{"x":{"field":"lon","type":"quantitative"},"y":{"field":"lat","type":"quantitative"},"detail":{"field":"id"},"order":{"field":"i"}}},
{"data":{"name":"coast"},"mark":{"type":"line","color":"#111111","strokeWidth":1,"clip":true},"encoding":{"x":{"field":"lon","type":"quantitative"},"y":{"field":"lat","type":"quantitative"},"order":{"field":"i"}}},
{"data":{"name":"cells"},"mark":{"type":"rect","stroke":"#666666","strokeWidth":1,"fillOpacity":0.92},"encoding":{"x":{"field":"lon0","type":"quantitative"},"x2":{"field":"lon1"},"y":{"field":"lat0","type":"quantitative"},"y2":{"field":"lat1"},"color":{"field":"s","type":"quantitative","scale":{"scheme":"viridis","reverse":true,"domain":[2,130]},"legend":{"title":null,"orient":"none","direction":"horizontal","legendX":33.6,"legendY":505,"gradientLength":179,"gradientThickness":11,"values":[25,50,75,100,125],"labelFontSize":13,"labelColor":"#222222","labelOffset":5,"tickCount":5}}}},
{"data":{"name":"text"},"transform":[{"filter":"datum.p=='b'"}],"mark":{"type":"text","align":"left","baseline":"alphabetic","color":"#111111"},"encoding":{"x":{"field":"lon","type":"quantitative"},"y":{"field":"lat","type":"quantitative"},"text":{"field":"t"},"size":{"field":"z","type":"quantitative","scale":null}}}
]},
{"width":246,"height":450,"layer":[
{"data":{"name":"grid"},"mark":{"type":"line","color":"#ebebeb","strokeWidth":1,"clip":true,"interpolate":"monotone"},"encoding":{"x":{"field":"lon","type":"quantitative","scale":{"domain":[149,157],"nice":false,"zero":false},"axis":{"values":[150,152,154,156],"labelExpr":"datum.value+'°E'","labelFontSize":14}},"y":{"field":"lat","type":"quantitative","scale":{"domain":[47,56.98],"nice":false,"zero":false},"axis":{"values":[47,48,49,50,51,52,53,54,55,56],"labelExpr":"datum.value+'°N'","labelFontSize":14.3}},"detail":{"field":"g"},"order":{"field":"i"}}},
{"data":{"name":"land"},"mark":{"type":"line","color":"#333333","fill":"#333333","strokeWidth":0.5,"clip":true},"encoding":{"x":{"field":"lon","type":"quantitative"},"y":{"field":"lat","type":"quantitative"},"detail":{"field":"id"},"order":{"field":"i"}}},
{"data":{"name":"coast"},"mark":{"type":"line","color":"#111111","strokeWidth":1,"clip":true},"encoding":{"x":{"field":"lon","type":"quantitative"},"y":{"field":"lat","type":"quantitative"},"order":{"field":"i"}}},
{"data":{"name":"cells"},"mark":{"type":"rect","stroke":"#666666","strokeWidth":1},"encoding":{"x":{"field":"lon0","type":"quantitative"},"x2":{"field":"lon1"},"y":{"field":"lat0","type":"quantitative"},"y2":{"field":"lat1"},"color":{"field":"dsBin","type":"quantitative","scale":{"type":"threshold","domain":[1.5,2.5,3.5,4.5,5.5,6.5],"range":["#4575b4","#91bfdb","#e0f3f8","#fff7bc","#fddc85","#f28d58","#d62d20"]},"legend":{"type":"gradient","title":null,"orient":"none","direction":"horizontal","legendX":5.3,"legendY":505,"gradientLength":234.5,"gradientThickness":11,"gradientStrokeColor":"#666666","gradientStrokeWidth":1,"labelFontSize":13,"labelColor":"#222222","labelOffset":5,"labelExpr":"{'1.5':'-500','2.5':'-200','3.5':'-50','4.5':'50','5.5':'200','6.5':'500'}[datum.value]"}}}},
{"data":{"name":"text"},"transform":[{"filter":"datum.p=='c'"}],"mark":{"type":"text","align":"left","baseline":"alphabetic","color":"#111111"},"encoding":{"x":{"field":"lon","type":"quantitative"},"y":{"field":"lat","type":"quantitative"},"text":{"field":"t"},"size":{"field":"z","type":"quantitative","scale":null}}}
]},
{"width":236,"height":450,"layer":[
{"data":{"name":"grid"},"mark":{"type":"line","color":"#ebebeb","strokeWidth":1,"clip":true,"interpolate":"monotone"},"encoding":{"x":{"field":"lon","type":"quantitative","scale":{"domain":[149,156.675],"nice":false,"zero":false},"axis":{"values":[150,152,154,156],"labelExpr":"datum.value+'°E'","labelFontSize":14}},"y":{"field":"lat","type":"quantitative","scale":{"domain":[47,56.98],"nice":false,"zero":false},"axis":{"values":[47,48,49,50,51,52,53,54,55,56],"labelExpr":"datum.value+'°N'","labelFontSize":14.3}},"detail":{"field":"g"},"order":{"field":"i"}}},
{"data":{"name":"land"},"mark":{"type":"line","color":"#333333","fill":"#333333","strokeWidth":0.5,"clip":true},"encoding":{"x":{"field":"lon","type":"quantitative"},"y":{"field":"lat","type":"quantitative"},"detail":{"field":"id"},"order":{"field":"i"}}},
{"data":{"name":"coast"},"mark":{"type":"line","color":"#111111","strokeWidth":1,"clip":true},"encoding":{"x":{"field":"lon","type":"quantitative"},"y":{"field":"lat","type":"quantitative"},"order":{"field":"i"}}},
{"data":{"name":"cells"},"mark":{"type":"rect","stroke":"#666666","strokeWidth":1},"encoding":{"x":{"field":"lon0","type":"quantitative"},"x2":{"field":"lon1"},"y":{"field":"lat0","type":"quantitative"},"y2":{"field":"lat1"},"color":{"field":"ratio","type":"quantitative","scale":{"type":"threshold","domain":[0.1,0.2,0.3,0.4],"range":["#fdf5d0","#fdd38a","#f3962e","#d9600f","#993310"]},"legend":{"type":"gradient","title":null,"orient":"none","direction":"horizontal","legendX":38.6,"legendY":505,"gradientLength":167,"gradientThickness":11,"gradientStrokeColor":"#666666","gradientStrokeWidth":1,"labelFontSize":13,"labelColor":"#222222","labelOffset":5,"format":".1f"}}}},
{"data":{"name":"text"},"transform":[{"filter":"datum.p=='d'"}],"mark":{"type":"text","align":"left","baseline":"alphabetic","color":"#111111"},"encoding":{"x":{"field":"lon","type":"quantitative"},"y":{"field":"lat","type":"quantitative"},"text":{"field":"t"},"size":{"field":"z","type":"quantitative","scale":null}}}
]}
]
}
